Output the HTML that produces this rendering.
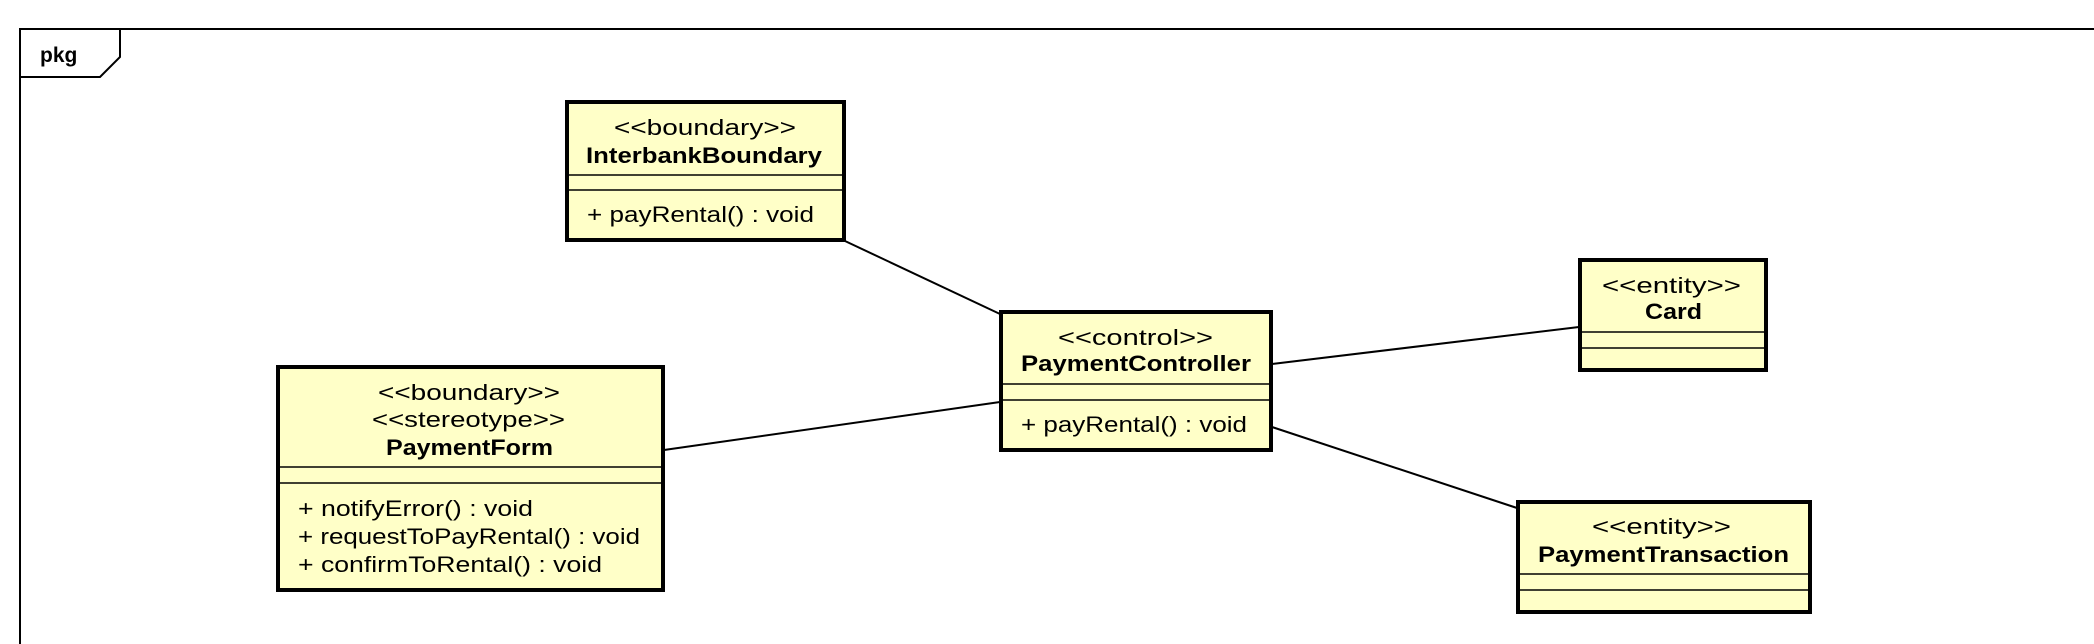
<!DOCTYPE html>
<html><head><meta charset="utf-8"><style>
html,body{margin:0;padding:0;background:#fff;}
svg{display:block;}
text{font-family:"Liberation Sans",sans-serif;font-size:22px;fill:#000;}
.b{font-weight:bold;}
</style></head><body>
<svg width="2094" height="644" viewBox="0 0 2094 644" xmlns="http://www.w3.org/2000/svg">
<!-- frame -->
<path d="M20 644 L20 29 L2094 29" fill="none" stroke="#000" stroke-width="2"/>
<path d="M20 77 L100 77 L120 57 L120 29" fill="none" stroke="#000" stroke-width="2"/>
<text x="40" y="62" class="b" style="font-size:21px">pkg</text>

<!-- connectors -->
<g stroke="#000" stroke-width="2">
<line x1="845" y1="241" x2="1000" y2="314"/>
<line x1="664" y1="450" x2="1000" y2="402"/>
<line x1="1272" y1="364" x2="1579" y2="327"/>
<line x1="1272" y1="427" x2="1517" y2="508"/>
</g>

<g fill="#ffffc8" stroke="#000">
<!-- InterbankBoundary -->
<rect x="567" y="102" width="277" height="138" stroke-width="4"/>
<line x1="567" y1="175" x2="844" y2="175" stroke-width="1.5"/>
<line x1="567" y1="190" x2="844" y2="190" stroke-width="1.5"/>
<!-- PaymentForm -->
<rect x="278" y="367" width="385" height="223" stroke-width="4"/>
<line x1="278" y1="467" x2="663" y2="467" stroke-width="1.5"/>
<line x1="278" y1="483" x2="663" y2="483" stroke-width="1.5"/>
<!-- PaymentController -->
<rect x="1001" y="312" width="270" height="138" stroke-width="4"/>
<line x1="1001" y1="384" x2="1271" y2="384" stroke-width="1.5"/>
<line x1="1001" y1="400" x2="1271" y2="400" stroke-width="1.5"/>
<!-- Card -->
<rect x="1580" y="260" width="186" height="110" stroke-width="4"/>
<line x1="1580" y1="332" x2="1766" y2="332" stroke-width="1.5"/>
<line x1="1580" y1="348" x2="1766" y2="348" stroke-width="1.5"/>
<!-- PaymentTransaction -->
<rect x="1518" y="502" width="292" height="110" stroke-width="4"/>
<line x1="1518" y1="574" x2="1810" y2="574" stroke-width="1.5"/>
<line x1="1518" y1="590" x2="1810" y2="590" stroke-width="1.5"/>
</g>

<!-- texts -->
<text x="614" y="135" textLength="182" lengthAdjust="spacingAndGlyphs">&lt;&lt;boundary&gt;&gt;</text>
<text x="586" y="163" class="b" textLength="236" lengthAdjust="spacingAndGlyphs">InterbankBoundary</text>
<text x="587" y="222" textLength="227" lengthAdjust="spacingAndGlyphs">+ payRental() : void</text>

<text x="378" y="400" textLength="182" lengthAdjust="spacingAndGlyphs">&lt;&lt;boundary&gt;&gt;</text>
<text x="372" y="427" textLength="193" lengthAdjust="spacingAndGlyphs">&lt;&lt;stereotype&gt;&gt;</text>
<text x="386" y="455" class="b" textLength="167" lengthAdjust="spacingAndGlyphs">PaymentForm</text>
<text x="298" y="516" textLength="235" lengthAdjust="spacingAndGlyphs">+ notifyError() : void</text>
<text x="298" y="544" textLength="342" lengthAdjust="spacingAndGlyphs">+ requestToPayRental() : void</text>
<text x="298" y="572" textLength="304" lengthAdjust="spacingAndGlyphs">+ confirmToRental() : void</text>

<text x="1058" y="345" textLength="155" lengthAdjust="spacingAndGlyphs">&lt;&lt;control&gt;&gt;</text>
<text x="1021" y="371" class="b" textLength="230" lengthAdjust="spacingAndGlyphs">PaymentController</text>
<text x="1021" y="432" textLength="226" lengthAdjust="spacingAndGlyphs">+ payRental() : void</text>

<text x="1602" y="293" textLength="139" lengthAdjust="spacingAndGlyphs">&lt;&lt;entity&gt;&gt;</text>
<text x="1645" y="319" class="b" textLength="57" lengthAdjust="spacingAndGlyphs">Card</text>

<text x="1592" y="534" textLength="139" lengthAdjust="spacingAndGlyphs">&lt;&lt;entity&gt;&gt;</text>
<text x="1538" y="562" class="b" textLength="251" lengthAdjust="spacingAndGlyphs">PaymentTransaction</text>
</svg>
</body></html>
